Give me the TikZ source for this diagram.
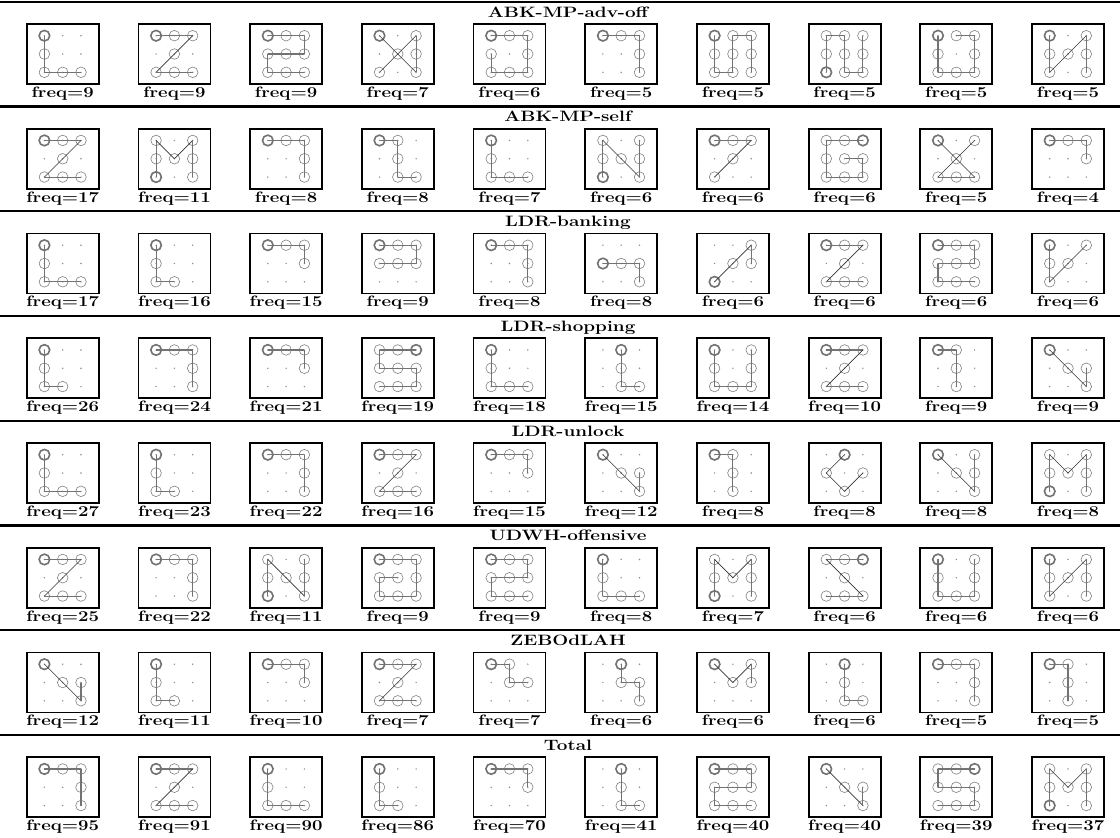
\documentclass[tikz,border=0pt]{standalone}
\usepackage{graphicx}
\usetikzlibrary{calc}
\definecolor{circc}{gray}{0.5}
\definecolor{startc}{gray}{0.45}
\definecolor{linec}{gray}{0.45}
\definecolor{diagc}{gray}{0.2}
\definecolor{dotc}{gray}{0.55}
\tikzset{
  pbox/.style={draw=black, line width=1.8pt, minimum width=72pt, minimum height=60pt, inner sep=0pt},
  vcirc/.style={circle, draw=circc, line width=0.6pt, minimum size=10.6pt, inner sep=0pt},
  scirc/.style={circle, draw=startc, line width=1.6pt, minimum size=10.6pt, inner sep=0pt},
  pline/.style={draw=linec, line width=1.1pt},
  dline/.style={draw=diagc, line width=0.6pt},
  sepline/.style={draw=black, line width=2.2pt},
  ttl/.style={font=\fontsize{15}{17}\selectfont\bfseries, inner sep=0pt, anchor=base},
  flabel/.style={font=\fontsize{15}{17}\selectfont\bfseries, inner sep=0pt, anchor=base}
}
\newcommand\patbox[5]{%
  \pgfmathsetmacro\cx{62.7+111.7*#2}%
  \pgfmathsetmacro\cy{1.7+104.75*#1+52.3}%
  \pgfmathsetmacro\fy{1.7+104.75*#1+95.6}%
  \node[pbox] (b#1-#2) at (\cx,\cy) {};
  \foreach \k in {1,...,9} {
    \pgfmathtruncatemacro\gc{mod(\k-1,3)}
    \pgfmathtruncatemacro\gr{(\k-1)/3}
    \coordinate (g#1-#2-\k) at ({\cx+(\gc-1)*18.3},{\cy+(\gr-1)*18.3});
    \fill[dotc] (g#1-#2-\k) circle (0.8pt);
  }
  \foreach \p in {#3,#4} { \node[vcirc] (c#1-#2-\p) at (g#1-#2-\p) {}; }
  \node[scirc] (s#1-#2) at (g#1-#2-#3) {};
  \foreach \p [remember=\p as \q (initially #3)] in {#4} {
    \pgfmathtruncatemacro\dg{and(mod(\p-1,3)!=mod(\q-1,3), int((\p-1)/3)!=int((\q-1)/3))}
    \ifnum\dg=1
      \draw[dline] (g#1-#2-\q) -- (g#1-#2-\p);
    \else
      \draw[pline] (g#1-#2-\q) -- (g#1-#2-\p);
    \fi
  }
  \node[flabel] (f#1-#2) at (\cx,\fy) {\scalebox{1.24}[1]{freq=#5}};
}
\begin{document}
\begin{tikzpicture}[x=1pt,y=-1pt]
\useasboundingbox (0,0) rectangle (1120,838);
\foreach \t [count=\k from 0] in {ABK-MP-adv-off,ABK-MP-self,LDR-banking,LDR-shopping,LDR-unlock,UDWH-offensive,ZEBOdLAH,Total} {
  \pgfmathsetmacro\ly{1.7+104.75*\k}
  \coordinate (l\k a) at (0,\ly);
  \coordinate (l\k b) at (1120,\ly);
  \draw[sepline] (l\k a) -- (l\k b);
  \node[ttl] (t\k) at (568,\ly+15.5) {\scalebox{1.26}[1]{\t}};
}
% ABK-MP-adv-off
\patbox{0}{0}{1}{4,7,8,9}{9}
\patbox{0}{1}{1}{2,3,5,7,8,9}{9}
\patbox{0}{2}{1}{2,3,6,5,4,7,8,9}{9}
\patbox{0}{3}{1}{5,9,6,3,7}{7}
\patbox{0}{4}{1}{2,3,6,9,8,7,4}{6}
\patbox{0}{5}{1}{2,3,6,9}{5}
\patbox{0}{6}{1}{4,7,8,5,2,3,6,9}{5}
\patbox{0}{7}{7}{4,1,2,5,8,9,6,3}{5}
\patbox{0}{8}{1}{4,7,8,9,6,3,2}{5}
\patbox{0}{9}{1}{4,7,5,3,6,9}{5}
% ABK-MP-self
\patbox{1}{0}{1}{2,3,5,7,8,9}{17}
\patbox{1}{1}{7}{4,1,5,3,6,9}{11}
\patbox{1}{2}{1}{2,3,6,9}{8}
\patbox{1}{3}{1}{2,5,8,9}{8}
\patbox{1}{4}{1}{4,7,8,9}{7}
\patbox{1}{5}{7}{4,1,5,9,6,3}{6}
\patbox{1}{6}{1}{2,3,5,7}{6}
\patbox{1}{7}{3}{2,1,4,7,8,9,6,5}{6}
\patbox{1}{8}{1}{5,9,8,7,3}{5}
\patbox{1}{9}{1}{2,3,6}{4}
% LDR-banking
\patbox{2}{0}{1}{4,7,8,9}{17}
\patbox{2}{1}{1}{4,7,8}{16}
\patbox{2}{2}{1}{2,3,6}{15}
\patbox{2}{3}{1}{2,3,6,5,4}{9}
\patbox{2}{4}{1}{2,3,6,9}{8}
\patbox{2}{5}{4}{5,6,9}{8}
\patbox{2}{6}{7}{5,3,6}{6}
\patbox{2}{7}{1}{2,3,5,7,8,9}{6}
\patbox{2}{8}{1}{2,3,6,5,4,7,8,9}{6}
\patbox{2}{9}{1}{4,7,5,3}{6}
% LDR-shopping
\patbox{3}{0}{1}{4,7,8}{26}
\patbox{3}{1}{1}{2,3,6,9}{24}
\patbox{3}{2}{1}{2,3,6}{21}
\patbox{3}{3}{3}{2,1,4,5,6,9,8,7}{19}
\patbox{3}{4}{1}{4,7,8,9}{18}
\patbox{3}{5}{2}{5,8,9}{15}
\patbox{3}{6}{1}{4,7,8,9,6,3}{14}
\patbox{3}{7}{1}{2,3,5,7,8,9}{10}
\patbox{3}{8}{1}{2,5,8}{9}
\patbox{3}{9}{1}{5,9,6}{9}
% LDR-unlock
\patbox{4}{0}{1}{4,7,8,9}{27}
\patbox{4}{1}{1}{4,7,8}{23}
\patbox{4}{2}{1}{2,3,6,9}{22}
\patbox{4}{3}{1}{2,3,5,7,8,9}{16}
\patbox{4}{4}{1}{2,3,6}{15}
\patbox{4}{5}{1}{5,9,6}{12}
\patbox{4}{6}{1}{2,5,8}{8}
\patbox{4}{7}{2}{4,8,6}{8}
\patbox{4}{8}{1}{5,9,6,3}{8}
\patbox{4}{9}{7}{4,1,5,3,6,9}{8}
% UDWH-offensive
\patbox{5}{0}{1}{2,3,5,7,8,9}{25}
\patbox{5}{1}{1}{2,3,6,9}{22}
\patbox{5}{2}{7}{4,1,5,9,6,3}{11}
\patbox{5}{3}{1}{2,3,6,9,8,7,4,5}{9}
\patbox{5}{4}{1}{2,3,6,5,4,7,8,9}{9}
\patbox{5}{5}{1}{4,7,8,9}{8}
\patbox{5}{6}{7}{4,1,5,3,6,9}{7}
\patbox{5}{7}{3}{2,1,5,9,8,7}{6}
\patbox{5}{8}{1}{4,7,8,9,6,3}{6}
\patbox{5}{9}{1}{4,7,5,3,6,9}{6}
% ZEBOdLAH
\patbox{6}{0}{1}{5,9,6}{12}
\patbox{6}{1}{1}{4,7,8}{11}
\patbox{6}{2}{1}{2,3,6}{10}
\patbox{6}{3}{1}{2,3,5,7,8,9}{7}
\patbox{6}{4}{1}{2,5,6}{7}
\patbox{6}{5}{2}{5,6,9}{6}
\patbox{6}{6}{1}{5,3,6}{6}
\patbox{6}{7}{2}{5,8,9}{6}
\patbox{6}{8}{1}{2,3,6,9}{5}
\patbox{6}{9}{1}{2,5,8}{5}
% Total
\patbox{7}{0}{1}{2,3,6,9}{95}
\patbox{7}{1}{1}{2,3,5,7,8,9}{91}
\patbox{7}{2}{1}{4,7,8,9}{90}
\patbox{7}{3}{1}{4,7,8}{86}
\patbox{7}{4}{1}{2,3,6}{70}
\patbox{7}{5}{2}{5,8,9}{41}
\patbox{7}{6}{1}{2,3,6,5,4,7,8,9}{40}
\patbox{7}{7}{1}{5,9,6}{40}
\patbox{7}{8}{3}{2,1,4,5,6,9,8,7}{39}
\patbox{7}{9}{7}{4,1,5,3,6,9}{37}
\end{tikzpicture}
\end{document}
